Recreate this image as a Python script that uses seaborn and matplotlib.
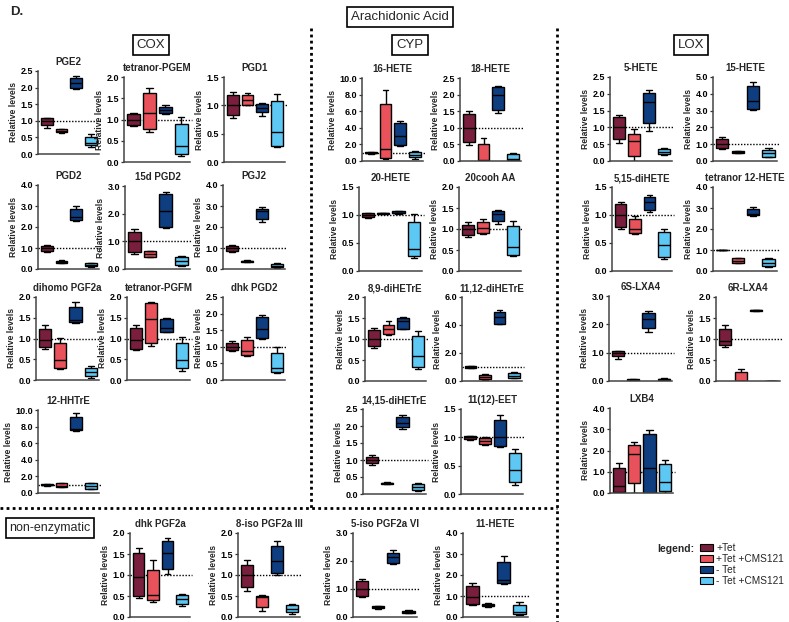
import numpy as np
import pandas as pd
import matplotlib
matplotlib.use('Agg')
import matplotlib.pyplot as plt
import seaborn as sns
from matplotlib.lines import Line2D
from matplotlib.patches import Patch

groups = ['+Tet', '+Tet +CMS121', '- Tet', '- Tet +CMS121']
colors = ['#7a1e3d', '#e9525b', '#0e3d80', '#5ec8f4']

# each group: five readings (min, Q1, median, Q3, max)
# COX
pge2 = [[0.78, 0.87, 1.0, 1.07, 1.08], [0.63, 0.65, 0.7, 0.75, 0.76],
        [1.97, 2.0, 2.15, 2.3, 2.35], [0.22, 0.27, 0.33, 0.52, 0.6]]
tetranor_pgem = [[0.85, 0.88, 1.0, 1.12, 1.15], [0.7, 0.78, 1.15, 1.62, 1.73],
                 [1.12, 1.15, 1.22, 1.3, 1.35], [0.15, 0.2, 0.38, 0.9, 1.07]]
pgd1 = [[0.78, 0.83, 1.0, 1.18, 1.23], [1.0, 1.01, 1.1, 1.18, 1.21],
        [0.82, 0.88, 0.96, 1.02, 1.04], [0.27, 0.28, 0.53, 1.08, 1.2]]
pgd2 = [[0.82, 0.85, 1.0, 1.1, 1.15], [0.28, 0.3, 0.35, 0.4, 0.42],
        [2.3, 2.35, 2.48, 2.85, 3.02], [0.1, 0.12, 0.2, 0.27, 0.3]]
d15_pgd2 = [[0.53, 0.63, 1.0, 1.35, 1.43], [0.42, 0.44, 0.53, 0.65, 0.66],
            [1.5, 1.53, 2.1, 2.72, 2.78], [0.12, 0.15, 0.28, 0.42, 0.47]]
pgj2 = [[0.8, 0.87, 1.0, 1.1, 1.15], [0.33, 0.35, 0.37, 0.4, 0.42],
        [2.25, 2.4, 2.78, 2.88, 2.95], [0.05, 0.1, 0.15, 0.25, 0.3]]
dihomo_pgf2a = [[0.75, 0.8, 0.96, 1.24, 1.33], [0.26, 0.3, 0.48, 0.9, 1.02],
                [1.38, 1.4, 1.45, 1.76, 1.88], [0.04, 0.1, 0.2, 0.28, 0.34]]
tetranor_pgfm = [[0.72, 0.74, 0.96, 1.26, 1.33], [0.83, 0.9, 1.48, 1.86, 1.88],
                 [1.16, 1.16, 1.26, 1.46, 1.5], [0.21, 0.28, 0.48, 0.88, 1.04]]
dhk_pgd2 = [[0.88, 0.9, 1.0, 1.12, 1.18], [0.72, 0.75, 0.87, 1.19, 1.3],
            [1.25, 1.27, 1.55, 1.9, 1.97], [0.2, 0.24, 0.35, 0.82, 1.0]]
hhtre_12 = [[0.9, 0.95, 1.0, 1.05, 1.1], [0.7, 0.72, 0.85, 1.15, 1.25],
            [7.5, 7.55, 7.7, 9.2, 9.6], [0.45, 0.5, 0.8, 1.15, 1.2]]
# CYP
hete_16 = [[0.9, 0.95, 1.0, 1.05, 1.1], [0.2, 0.32, 1.5, 6.9, 8.6],
           [1.8, 1.92, 3.04, 4.52, 4.8], [0.3, 0.52, 0.72, 1.12, 1.24]]
hete_18 = [[0.48, 0.56, 1.0, 1.43, 1.5], [0.0, 0.0, 0.02, 0.5, 0.7],
           [1.46, 1.53, 2.0, 2.23, 2.26], [0.02, 0.03, 0.06, 0.2, 0.25]]
hete_20 = [[0.95, 0.96, 1.0, 1.03, 1.04], [1.02, 1.02, 1.03, 1.04, 1.04],
           [1.02, 1.03, 1.04, 1.07, 1.08], [0.24, 0.26, 0.4, 0.87, 1.02]]
cooh_aa_20 = [[0.82, 0.85, 1.0, 1.1, 1.16], [0.88, 0.9, 1.03, 1.16, 1.24],
              [1.13, 1.2, 1.36, 1.43, 1.46], [0.35, 0.38, 0.58, 1.07, 1.2]]
dihetre_89 = [[0.78, 0.83, 1.0, 1.21, 1.27], [1.09, 1.13, 1.23, 1.34, 1.42],
              [1.23, 1.25, 1.42, 1.5, 1.53], [0.28, 0.34, 0.6, 1.07, 1.2]]
dihetre_1112 = [[0.92, 0.95, 1.0, 1.05, 1.08], [0.1, 0.14, 0.3, 0.45, 0.48],
                [4.05, 4.1, 4.55, 4.95, 5.1], [0.2, 0.24, 0.38, 0.6, 0.66]]
dihetre_1415 = [[0.85, 0.92, 1.0, 1.09, 1.15], [0.28, 0.29, 0.31, 0.33, 0.35],
                [1.92, 1.97, 2.1, 2.27, 2.32], [0.1, 0.12, 0.22, 0.3, 0.32]]
eet_1112 = [[0.96, 0.97, 1.0, 1.02, 1.03], [0.86, 0.88, 0.94, 0.98, 1.0],
            [0.83, 0.85, 1.0, 1.3, 1.4], [0.16, 0.21, 0.42, 0.72, 0.79]]
# LOX
hete_5 = [[0.53, 0.66, 1.0, 1.3, 1.38], [0.01, 0.16, 0.6, 0.81, 0.95],
          [0.88, 1.13, 1.77, 2.03, 2.12], [0.18, 0.21, 0.28, 0.36, 0.4]]
hete_15 = [[0.7, 0.76, 1.02, 1.3, 1.42], [0.45, 0.47, 0.52, 0.57, 0.6],
           [3.02, 3.1, 3.55, 4.45, 4.7], [0.22, 0.26, 0.46, 0.66, 0.76]]
dihete_515 = [[0.75, 0.79, 1.0, 1.2, 1.24], [0.66, 0.68, 0.75, 0.92, 0.99],
              [1.05, 1.09, 1.24, 1.33, 1.36], [0.22, 0.25, 0.47, 0.7, 0.75]]
tetranor_12hete = [[0.98, 0.99, 1.0, 1.01, 1.02], [0.38, 0.4, 0.47, 0.6, 0.62],
                   [2.63, 2.65, 2.7, 2.94, 3.06], [0.2, 0.22, 0.36, 0.57, 0.6]]
lxa4_6s = [[0.79, 0.87, 0.99, 1.05, 1.07], [0.02, 0.03, 0.05, 0.07, 0.08],
           [1.74, 1.88, 2.2, 2.41, 2.48], [0.03, 0.04, 0.06, 0.08, 0.09]]
lxa4_6r = [[0.8, 0.85, 0.95, 1.23, 1.34], [0.0, 0.0, 0.01, 0.21, 0.28],
           [1.66, 1.67, 1.68, 1.69, 1.7], [0.0, 0.0, 0.005, 0.01, 0.01]]
lxb4 = [[0.02, 0.05, 0.33, 1.17, 1.4], [0.0, 0.47, 1.84, 2.28, 2.4],
        [0.0, 0.02, 1.17, 2.8, 2.98], [0.0, 0.1, 0.5, 1.38, 1.55]]
# non-enzymatic
dhk_pgf2a = [[0.45, 0.5, 0.95, 1.52, 1.64], [0.35, 0.4, 0.53, 1.13, 1.35],
             [1.02, 1.14, 1.52, 1.8, 1.87], [0.27, 0.32, 0.43, 0.52, 0.55]]
iso8_pgf2a = [[0.62, 0.72, 1.0, 1.25, 1.35], [0.15, 0.24, 0.47, 0.5, 0.52],
              [1.0, 1.05, 1.33, 1.7, 1.8], [0.08, 0.11, 0.19, 0.28, 0.32]]
iso5_pgf2a = [[0.72, 0.74, 1.0, 1.27, 1.36], [0.3, 0.31, 0.35, 0.39, 0.41],
              [1.9, 1.93, 2.15, 2.28, 2.38], [0.13, 0.15, 0.18, 0.22, 0.24]]
hete_11 = [[0.56, 0.62, 0.95, 1.46, 1.62], [0.5, 0.52, 0.57, 0.62, 0.65],
           [1.57, 1.6, 1.75, 2.6, 2.89], [0.11, 0.16, 0.25, 0.56, 0.7]]

# title, data, y max, y step, axes box in pixels (left, top, right, bottom)
panels = [
    ('PGE2', pge2, 2.5, 0.5, (38, 71, 99, 154)),
    ('tetranor-PGEM', tetranor_pgem, 2.0, 0.5, (124, 77, 190, 162)),
    ('PGD1', pgd1, 1.5, 0.5, (224, 77, 285, 162)),
    ('PGD2', pgd2, 4.0, 1.0, (38, 185, 99, 269)),
    ('15d PGD2', d15_pgd2, 3.0, 1.0, (125, 186, 190, 269)),
    ('PGJ2', pgj2, 4.0, 1.0, (223, 185, 285, 269)),
    ('dihomo PGF2a', dihomo_pgf2a, 2.0, 0.5, (36, 297, 99, 380)),
    ('tetranor-PGFM', tetranor_pgfm, 2.0, 0.5, (127, 297, 190, 380)),
    ('dhk PGD2', dhk_pgd2, 2.5, 0.5, (223, 297, 285, 380)),
    ('12-HHTrE', hhtre_12, 10.0, 2.0, (38, 410, 99, 493)),
    ('16-HETE', hete_16, 10.0, 2.0, (362, 78, 423, 161)),
    ('18-HETE', hete_18, 2.5, 0.5, (460, 78, 521, 161)),
    ('20-HETE', hete_20, 1.5, 0.5, (359, 187, 422, 271)),
    ('20cooh AA', cooh_aa_20, 2.0, 0.5, (459, 187, 521, 271)),
    ('8,9-diHETrE', dihetre_89, 2.0, 0.5, (365, 297, 426, 381)),
    ('11,12-diHETrE', dihetre_1112, 6.0, 2.0, (462, 297, 522, 381)),
    ('14,15-diHETrE', dihetre_1415, 2.5, 0.5, (363, 409, 426, 494)),
    ('11(12)-EET', eet_1112, 1.5, 0.5, (461, 409, 523, 494)),
    ('5-HETE', hete_5, 2.5, 0.5, (610, 77, 672, 161)),
    ('15-HETE', hete_15, 5.0, 1.0, (713, 77, 777, 161)),
    ('5,15-diHETE', dihete_515, 1.5, 0.5, (612, 187, 672, 271)),
    ('tetranor 12-HETE', tetranor_12hete, 4.0, 1.0, (713, 187, 777, 271)),
    ('6S-LXA4', lxa4_6s, 3.0, 1.0, (609, 296, 672, 381)),
    ('6R-LXA4', lxa4_6r, 2.0, 0.5, (716, 297, 780, 381)),
    ('LXB4', lxb4, 4.0, 1.0, (610, 408, 673, 493)),
    ('dhk PGF2a', dhk_pgf2a, 2.0, 0.5, (130, 533, 190, 617)),
    ('8-iso PGF2a III', iso8_pgf2a, 2.0, 0.5, (238, 533, 300, 617)),
    ('5-iso PGF2a VI', iso5_pgf2a, 3.0, 1.0, (353, 533, 417, 617)),
    ('11-HETE', hete_11, 4.0, 1.0, (463, 533, 528, 617)),
]

sns.set_style('ticks')
plt.rcParams['font.family'] = ['Liberation Sans', 'DejaVu Sans']

W, H = 789, 622
fig = plt.figure(figsize=(W / 100, H / 100), dpi=100)


def fbox(l, t, r, b):
    return [l / W, 1 - b / H, (r - l) / W, (b - t) / H]


for title, vals, ymax, step, pos in panels:
    ax = fig.add_axes(fbox(*pos))
    df = pd.DataFrame({'group': np.repeat(groups, 5),
                       'value': np.concatenate(vals)})
    sns.boxplot(data=df, x='group', y='value', hue='group', order=groups,
                hue_order=groups, palette=colors, saturation=1,
                whis=(0, 100), width=0.8, linecolor='black', linewidth=1.0,
                legend=False, ax=ax)
    ax.axhline(1, ls=(0, (1, 1.2)), color='black', lw=1.0, xmax=1.03,
               clip_on=False, zorder=1)
    ax.set_xlim(-0.6, 3.55)
    ax.set_ylim(0, ymax)
    ticks = np.arange(0, ymax + step / 2, step)
    ax.set_yticks(ticks)
    ax.set_yticklabels(['%.1f' % t for t in ticks], fontsize=6.5,
                       fontweight='bold')
    ax.set_xticks([])
    ax.set_xlabel('')
    ax.set_ylabel('Relative levels', fontsize=6.2, fontweight='bold',
                  labelpad=2)
    ax.set_title(title, fontsize=7, fontweight='bold', pad=4)
    ax.tick_params(axis='y', length=2.5, width=0.9, pad=1, colors='#333333',
                   labelcolor='black')
    for s in ['top', 'right']:
        ax.spines[s].set_visible(False)
    for s in ['left', 'bottom']:
        ax.spines[s].set_color('#444444')
        ax.spines[s].set_linewidth(1.1)

# headers
hdr = dict(boxstyle='square,pad=0.3', fc='white', ec='black', lw=1.2)
fig.text(10 / W, 1 - 12 / H, 'D.', fontsize=9.5, fontweight='bold',
         va='center')
fig.text(400 / W, 1 - 17 / H, 'Arachidonic Acid', fontsize=9.5, ha='center',
         va='center', bbox=hdr)
fig.text(151 / W, 1 - 45 / H, 'COX', fontsize=9.5, ha='center', va='center',
         bbox=hdr)
fig.text(410 / W, 1 - 45 / H, 'CYP', fontsize=9.5, ha='center', va='center',
         bbox=hdr)
fig.text(691 / W, 1 - 45 / H, 'LOX', fontsize=9.5, ha='center', va='center',
         bbox=hdr)
fig.text(50 / W, 1 - 528 / H, 'non-enzymatic', fontsize=9, ha='center',
         va='center', bbox=hdr)

# dotted separators
sep = dict(ls=(0, (1, 1.2)), lw=2, color='black')
fig.add_artist(Line2D([311 / W, 311 / W], [1 - 28 / H, 1 - 508 / H], **sep))
fig.add_artist(Line2D([557 / W, 557 / W], [1 - 28 / H, 0], **sep))
fig.add_artist(Line2D([0, 557 / W], [1 - 508 / H, 1 - 508 / H], **sep))

# legend
handles = [Patch(facecolor=c, edgecolor='black', lw=0.8) for c in colors]
fig.legend(handles=handles, labels=groups, loc='upper left',
           bbox_to_anchor=(700 / W, 1 - 543 / H), frameon=False,
           fontsize=7.3, handlelength=1.3, handleheight=0.65,
           handletextpad=0.3, labelspacing=0.1, borderpad=0,
           borderaxespad=0)
fig.text(657 / W, 1 - 549 / H, 'legend:', fontsize=7.5, fontweight='bold',
         va='center')

fig.savefig('out.png', dpi=100)
